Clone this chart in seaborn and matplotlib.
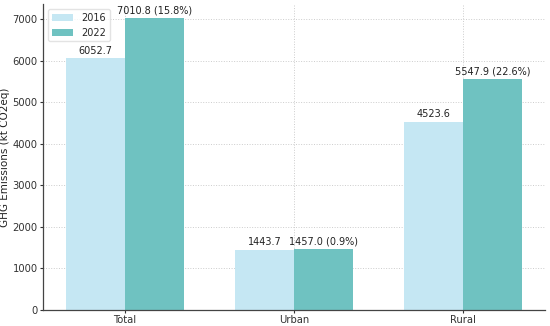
import matplotlib
matplotlib.use("Agg")
import matplotlib.pyplot as plt
import seaborn as sns
import pandas as pd

categories = ["Total", "Urban", "Rural"]
years = ["2016", "2022"]
values_2016 = [6052.7, 1443.7, 4523.6]
values_2022 = [7010.8, 1457.0, 5547.9]
pct_change = [15.8, 0.9, 22.6]

df = pd.DataFrame({
    "Category": categories * 2,
    "Year": [years[0]] * 3 + [years[1]] * 3,
    "Value": values_2016 + values_2022,
})

sns.set_style("white")
plt.rcParams['font.family'] = ['DejaVu Sans']

fig = plt.figure(figsize=(5.5, 3.26), dpi=100)
ax = fig.add_axes([0.078, 0.049, 0.913, 0.939])

palette = {"2016": "#c5e7f3", "2022": "#6fc2c1"}
sns.barplot(data=df, x="Category", y="Value", hue="Year", palette=palette,
            width=0.7, gap=0, ax=ax, saturation=1, errorbar=None, zorder=2,
            linewidth=0, edgecolor="none")

for cont, yr in zip(ax.containers, years):
    if yr == "2016":
        labels = [f"{v:.1f}" for v in values_2016]
    else:
        labels = [f"{v:.1f} ({p:.1f}%)" for v, p in zip(values_2022, pct_change)]
    ax.bar_label(cont, labels=labels, fontsize=7, padding=2, color="#222222")

ax.set_xlabel("")
ax.set_ylabel("GHG Emissions (kt CO2eq)", fontsize=7.5, color="#222222", labelpad=2)
ax.tick_params(axis="both", labelsize=7.2, colors="#333333", length=2.5, pad=1.2,
               direction="out", left=True, bottom=True)
ax.grid(True, linestyle=":", color="#cccccc", linewidth=0.7, zorder=0)
ax.set_axisbelow(True)
for s in ["top", "right"]:
    ax.spines[s].set_visible(False)
for s in ["left", "bottom"]:
    ax.spines[s].set_color("#444444")
    ax.spines[s].set_linewidth(0.9)
ax.set_ylim(0, 7361)
ax.set_xlim(-0.485, 2.485)
ax.legend(loc="upper left", fontsize=7, frameon=True, edgecolor="#dddddd",
          handlelength=2.2, borderpad=0.4)

fig.savefig("out.png", dpi=100)
